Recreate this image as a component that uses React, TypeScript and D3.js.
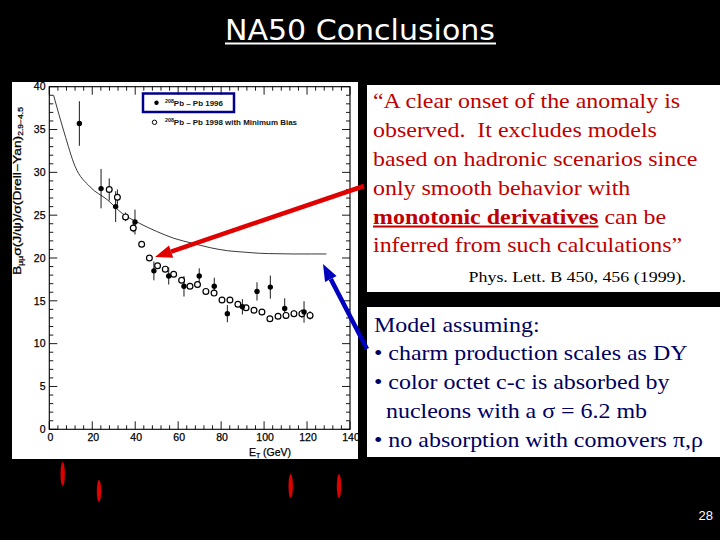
import React from "react";
import * as d3 from "d3";

// filled points: Pb-Pb 1996
const FILLED_ET = [14.0, 24.1, 30.9, 39.9, 48.7, 55.6, 62.7, 69.8, 76.8, 82.9, 89.9, 96.7, 102.9, 109.6, 118.6];
const FILLED_RATIO = [35.7, 28.1, 26.0, 24.2, 18.5, 17.9, 16.7, 17.9, 16.7, 13.5, 14.3, 16.1, 16.6, 14.1, 13.7];
const FILLED_ERR = [2.6, 2.3, 1.8, 1.45, 1.1, 1.0, 1.2, 0.9, 1.0, 1.0, 0.9, 1.07, 1.35, 1.2, 1.25];

// open points: Pb-Pb 1998 with minimum bias
const OPEN_ET = [27.9, 31.7, 35.5, 39.1, 43.0, 46.6, 50.4, 54.0, 57.9, 61.6, 65.5, 69.0, 72.9, 76.7, 80.4, 84.1, 87.8, 91.6, 95.3, 99.0, 102.7, 106.5, 110.2, 113.9, 117.6, 121.4];
const OPEN_RATIO = [28.0, 27.1, 24.8, 23.5, 21.6, 20.0, 19.1, 18.7, 18.1, 17.4, 16.7, 16.9, 16.1, 15.9, 15.1, 15.1, 14.6, 14.2, 13.9, 13.7, 12.9, 13.2, 13.3, 13.5, 13.5, 13.3];
const OPEN_ERR = [1.3, 0.9, 0.5, 0.5, 0.3, 0.3, 0.3, 0.3, 0.3, 0.3, 0.3, 0.3, 0.3, 0.3, 0.3, 0.3, 0.3, 0.3, 0.3, 0.3, 0.3, 0.3, 0.4, 0.4, 0.5, 0.5];

// model curve (hadronic scenario)
const MODEL_ET = [2, 7, 12, 19, 27, 34, 42, 50, 58, 67, 75, 83, 90, 98, 106, 114, 122, 129];
const MODEL_RATIO = [39.0, 34.6, 30.7, 28.3, 26.8, 25.2, 24.05, 23.1, 22.3, 21.7, 21.2, 20.85, 20.7, 20.55, 20.5, 20.47, 20.47, 20.47];

const X_TICKS = [0, 20, 40, 60, 80, 100, 120, 140];
const Y_TICKS = [0, 5, 10, 15, 20, 25, 30, 35, 40];

const QUOTE_LINES = [
  "\u201CA clear onset of the anomaly is",
  "observed.\u00A0 It excludes models",
  "based on hadronic scenarios since",
  "only smooth behavior with",
];
const QUOTE_LAST = "inferred from such calculations\u201D";
const MODEL_LINES = [
  "Model assuming:",
  "\u2022 charm production scales as DY",
  "\u2022 color octet c-c is absorbed by",
  "\u00A0\u00A0nucleons with a \u03C3 = 6.2 mb",
  "\u2022 no absorption with comovers \u03C0,\u03C1",
];

function Arrow({ x1, y1, x2, y2, color }: any) {
  const a = Math.atan2(y2 - y1, x2 - x1);
  const len = 17, hw = 6.5;
  const bx = x2 - len * Math.cos(a), by = y2 - len * Math.sin(a);
  const px = -Math.sin(a) * hw, py = Math.cos(a) * hw;
  return (
    <g>
      <line x1={x1} y1={y1} x2={bx} y2={by} stroke={color} strokeWidth={4.5} />
      <polygon points={`${x2},${y2} ${bx + px},${by + py} ${bx - px},${by - py}`} fill={color} />
    </g>
  );
}

export default function App() {
  const x = d3.scaleLinear().domain([0, 140]).range([49.3, 350]);
  const y = d3.scaleLinear().domain([0, 40]).range([429.3, 86.7]);
  const [x0, x1] = x.range();
  const [y0, y1] = y.range();

  const curve = d3
    .line<number>()
    .x((d, i) => x(MODEL_ET[i]))
    .y(d => y(d))
    .curve(d3.curveMonotoneX);

  const xMinor = d3.range(0, 141, 4);
  const yMinor = d3.range(0, 41, 1);

  const serif = "'Liberation Serif', 'Times New Roman', serif";
  const sans = "'Liberation Sans', Arial, sans-serif";

  return (
    <div style={{ position: "absolute", left: 0, top: 0, width: 720, height: 540, background: "#000" }}>
      <svg width={720} height={540} style={{ display: "block" }}>
        <rect width={720} height={540} fill="#000" />

        {/* title */}
        <text x={225} y={40} fill="#fff" fontFamily="'DejaVu Sans', sans-serif" fontSize={28}
          textLength={270} lengthAdjust="spacingAndGlyphs">NA50 Conclusions</text>
        <rect x={225} y={42.5} width={271} height={2} fill="#fff" />

        {/* plot panel */}
        <defs>
          <clipPath id="panel"><rect x={12} y={82} width={346} height={377} /></clipPath>
        </defs>
        <rect x={12} y={82} width={346} height={377} fill="#fff" />
        <g clipPath="url(#panel)" fontFamily={sans}>
          <rect x={x0} y={y1} width={x1 - x0} height={y0 - y1} fill="none" stroke="#000" strokeWidth={1.1} />
          {xMinor.map(t => {
            const major = t % 20 === 0;
            const l = major ? 8 : 4;
            return (
              <g key={"xt" + t} stroke="#000" strokeWidth={0.9}>
                <line x1={x(t)} x2={x(t)} y1={y0} y2={y0 - l} />
                <line x1={x(t)} x2={x(t)} y1={y1} y2={y1 + l} />
              </g>
            );
          })}
          {yMinor.map(t => {
            const major = t % 5 === 0;
            const l = major ? 8 : 4;
            return (
              <g key={"yt" + t} stroke="#000" strokeWidth={0.9}>
                <line x1={x0} x2={x0 + l} y1={y(t)} y2={y(t)} />
                <line x1={x1} x2={x1 - l} y1={y(t)} y2={y(t)} />
              </g>
            );
          })}
          {X_TICKS.map(t => (
            <text key={"xl" + t} x={x(t) + 1} y={440.5} fontSize={10.5} textAnchor="middle" fill="#000"
              stroke="#000" strokeWidth={0.25}>{t}</text>
          ))}
          {Y_TICKS.map(t => (
            <text key={"yl" + t} x={45.5} y={y(t) + 3.7} fontSize={10.5} textAnchor="end" fill="#000"
              stroke="#000" strokeWidth={0.25}>{t}</text>
          ))}
          <text x={270} y={456} fontSize={10.5} textAnchor="middle" fill="#000" stroke="#000" strokeWidth={0.25}>
            E<tspan fontSize={7} dy={2}>T</tspan><tspan dy={-2}> (GeV)</tspan>
          </text>
          <text transform={`translate(21,191) rotate(-90)`} fontSize={10.5} textAnchor="middle" fill="#000"
            stroke="#000" strokeWidth={0.25} textLength={168} lengthAdjust="spacingAndGlyphs">
            B<tspan fontSize={6.5} dy={2}>{"\u03BC\u03BC"}</tspan>
            <tspan dy={-2}>{"\u03C3(J/\u03C8)/\u03C3(Drell\u2212Yan)"}</tspan>
            <tspan fontSize={6.5} dy={2}>{"2.9\u22124.5"}</tspan>
          </text>

          {/* model curve */}
          <path d={curve(MODEL_RATIO) || ""} fill="none" stroke="#222" strokeWidth={0.9} />

          {/* error bars */}
          {FILLED_ET.map((e, i) => (
            <line key={"fe" + i} x1={x(e)} x2={x(e)} y1={y(FILLED_RATIO[i] - FILLED_ERR[i])}
              y2={y(FILLED_RATIO[i] + FILLED_ERR[i])} stroke="#000" strokeWidth={0.9} />
          ))}
          {OPEN_ET.map((e, i) => (
            <line key={"oe" + i} x1={x(e)} x2={x(e)} y1={y(OPEN_RATIO[i] - OPEN_ERR[i])}
              y2={y(OPEN_RATIO[i] + OPEN_ERR[i])} stroke="#000" strokeWidth={0.9} />
          ))}
          {OPEN_ET.map((e, i) => (
            <circle key={"o" + i} cx={x(e)} cy={y(OPEN_RATIO[i])} r={2.9} fill="#fff" stroke="#000" strokeWidth={1.2} />
          ))}
          {FILLED_ET.map((e, i) => (
            <circle key={"f" + i} cx={x(e)} cy={y(FILLED_RATIO[i])} r={2.7} fill="#000" />
          ))}

          {/* legend */}
          <rect x={143} y={93.5} width={91} height={18.5} fill="none" stroke="#00008b" strokeWidth={2.5} />
          <circle cx={156.5} cy={102.7} r={2.2} fill="#000" />
          <text x={165} y={105.5} fontSize={7.5} fontWeight="bold" fill="#111" textLength={58} lengthAdjust="spacingAndGlyphs">
            <tspan fontSize={5} dy={-3}>208</tspan><tspan dy={3}>{"Pb \u2013 Pb 1996"}</tspan>
          </text>
          <circle cx={154.5} cy={122.3} r={2.2} fill="#fff" stroke="#000" strokeWidth={1} />
          <text x={165} y={125} fontSize={7.5} fontWeight="bold" fill="#111" textLength={132} lengthAdjust="spacingAndGlyphs">
            <tspan fontSize={5} dy={-3}>208</tspan><tspan dy={3}>{"Pb \u2013 Pb 1998 with Minimum Bias"}</tspan>
          </text>
        </g>

        {/* bottom red marks */}
        {[[62.7, 474, 12], [99, 491, 11], [290.7, 486, 12], [339, 486, 12]].map((m, i) => (
          <ellipse key={"m" + i} cx={m[0]} cy={m[1]} rx={2.2} ry={m[2]} fill="#dd0000" />
        ))}

        {/* quote box */}
        <rect x={367} y={85} width={353} height={207} fill="#fff" />
        <g transform="translate(373,0) scale(1.18,1)" fontFamily={serif} fontSize={20.3} fill="#c00000">
          {QUOTE_LINES.map((l, i) => (
            <text key={"q" + i} x={0} y={108.5 + i * 28.8} style={{ whiteSpace: "pre" }}>{l}</text>
          ))}
          <text x={0} y={108.5 + 4 * 28.8}>
            <tspan fontWeight="bold" textDecoration="underline">monotonic derivatives</tspan>
            <tspan> can be</tspan>
          </text>
          <text x={0} y={108.5 + 5 * 28.8}>{QUOTE_LAST}</text>
        </g>
        <g transform="translate(468.5,0) scale(1.18,1)" fontFamily={serif}>
          <text x={0} y={282.5} fontSize={15.2} fill="#000">Phys. Lett. B 450, 456 (1999).</text>
        </g>

        {/* model box */}
        <rect x={367} y={307} width={353} height={150} fill="#fff" />
        <g transform="translate(374,0) scale(1.18,1)" fontFamily={serif} fontSize={20.3} fill="#000060">
          {MODEL_LINES.map((l, i) => (
            <text key={"m" + i} x={0} y={331.8 + i * 28.7} style={{ whiteSpace: "pre" }}>{l}</text>
          ))}
        </g>

        {/* arrows */}
        <Arrow x1={364} y1={186} x2={155} y2={257} color="#e00000" />
        <Arrow x1={367} y1={349} x2={323} y2={264} color="#0000c0" />

        <text x={713} y={520} fill="#fff" fontFamily={sans} fontSize={13} textAnchor="end">28</text>
      </svg>
    </div>
  );
}
